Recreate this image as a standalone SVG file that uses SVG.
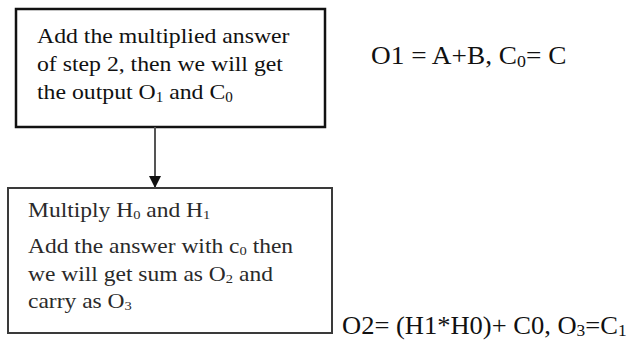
<svg xmlns="http://www.w3.org/2000/svg" width="640" height="342" viewBox="0 0 640 342">
<style>
.t{font-family:"Liberation Serif","Times New Roman",serif;fill:#111;}
.b{font-family:"Liberation Serif","Times New Roman",serif;fill:#2a2a2a;}
</style>
<defs>
<marker id="ah" viewBox="0 0 12 12" refX="12" refY="6" markerWidth="12" markerHeight="12" markerUnits="userSpaceOnUse" orient="auto">
<path d="M0,0 L12,6 L0,12 Z" fill="#111"/>
</marker>
</defs>
<rect width="640" height="342" fill="#fff"/>
<g id="node-top">
<rect x="16" y="9" width="309" height="118" fill="#fff" stroke="#111" stroke-width="2.5"/>
<g class="t" font-size="22" transform="translate(37,0) scale(1.08,1)">
<text x="0" y="43">Add the multiplied answer</text>
<text x="0" y="71">of step 2, then we will get</text>
<text x="0" y="99">the output O<tspan font-size="14" dy="3">1</tspan><tspan dy="-3"> and C</tspan><tspan font-size="14" dy="3">0</tspan></text>
</g>
</g>
<g id="node-bottom">
<rect x="8" y="188" width="324" height="145" fill="#fff" stroke="#3a3a3a" stroke-width="2"/>
<g class="b" font-size="21" transform="translate(28,0) scale(1.12,1)">
<text x="0" y="217">Multiply H<tspan font-size="13" dy="2">0</tspan><tspan dy="-2"> and H</tspan><tspan font-size="13" dy="2">1</tspan></text>
<text x="0" y="253">Add the answer with c<tspan font-size="13" dy="2">0</tspan><tspan dy="-2"> then</tspan></text>
<text x="0" y="281">we will get sum as O<tspan font-size="13" dy="2">2</tspan><tspan dy="-2"> and</tspan></text>
<text x="0" y="308">carry as O<tspan font-size="13" dy="2">3</tspan></text>
</g>
</g>
<g id="label-o1">
<text class="t" font-size="26" transform="translate(371,64) scale(1.05,1)">O1 = A+B, C<tspan font-size="17" dy="3">0</tspan><tspan dy="-3">= C</tspan></text>
</g>
<g id="label-o2">
<text class="t" font-size="26" transform="translate(342,334) scale(1.02,1)">O2= (H1*H0)+ C0, O<tspan font-size="17" dy="2">3</tspan><tspan dy="-2">=C</tspan><tspan font-size="17" dy="2">1</tspan></text>
</g>
<g id="connectors">
<line x1="155" y1="127" x2="155" y2="188" stroke="#555" stroke-width="2" marker-end="url(#ah)"/>
</g>
</svg>
